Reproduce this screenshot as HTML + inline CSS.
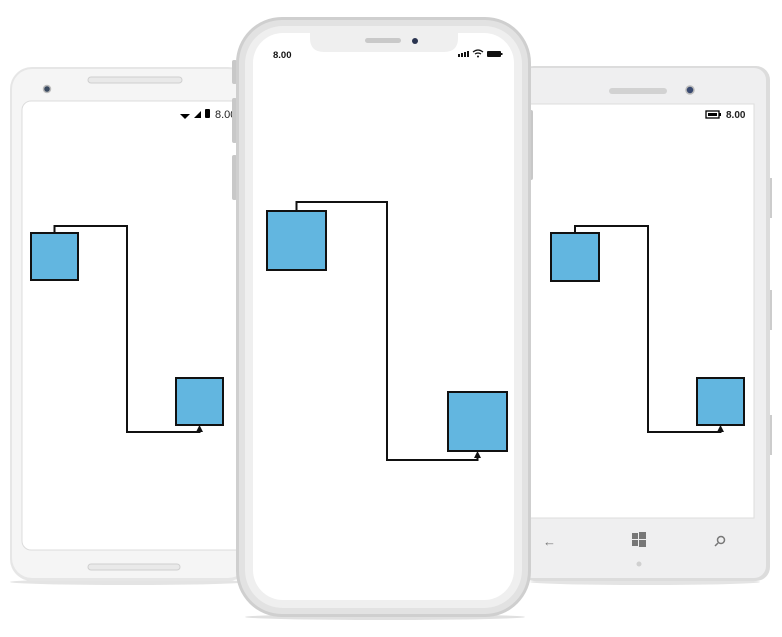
<!DOCTYPE html>
<html><head><meta charset="utf-8"><style>
html,body{margin:0;padding:0;background:#fff;}
svg{display:block;font-family:"Liberation Sans",sans-serif;}
</style></head><body>
<svg id="s" width="782" height="637" viewBox="0 0 782 637">
 <g>
  <ellipse cx="128" cy="582" rx="118" ry="3" fill="#e4e4e4"/>
  <rect x="10" y="67" width="240" height="514" rx="22" fill="#e6e6e6"/>
  <rect x="12" y="69" width="236" height="509" rx="20" fill="#f5f5f5"/>
  <rect x="88" y="77" width="94" height="6" rx="3" fill="#e9e9e9" stroke="#cfcfcf" stroke-width="1"/>
  <circle cx="47" cy="89" r="3.5" fill="#3a4a60" stroke="#bbb" stroke-width="1.5"/>
  <rect x="22" y="101" width="230" height="449" rx="9" fill="#fff" stroke="#dcdcdc" stroke-width="1"/>
  <rect x="88" y="564" width="92" height="6" rx="3" fill="#e9e9e9" stroke="#cfcfcf" stroke-width="1"/>
  <path d="M180 114 l10 0 l-5 5z" fill="#000"/>
  <path d="M194 118 l7 -7 l0 7z" fill="#000"/>
  <rect x="205" y="109" width="5" height="9" rx="1" fill="#000"/>
  <text x="215" y="118" font-size="11" fill="#222">8.00</text>
 </g>
 <g>
  <rect x="768" y="178" width="4" height="40" fill="#ccc"/>
  <rect x="768" y="290" width="4" height="40" fill="#ccc"/>
  <rect x="768" y="415" width="4" height="40" fill="#ccc"/>
  <ellipse cx="645" cy="582" rx="115" ry="3" fill="#e4e4e4"/>
  <rect x="520" y="66" width="250" height="515" rx="14" fill="#dcdcdc"/>
  <rect x="520" y="68" width="246" height="510" rx="12" fill="#efeff0"/>
  <rect x="609" y="88" width="58" height="6" rx="3" fill="#d2d2d2"/>
  <circle cx="690" cy="90" r="4" fill="#3a4a70" stroke="#bbb" stroke-width="1.5"/>
  <rect x="526" y="104" width="228" height="414" fill="#fff" stroke="#ddd" stroke-width="1"/>
  <text x="543" y="546" font-size="13" fill="#777">←</text>
  <g fill="#777"><rect x="632" y="533" width="6" height="6"/><rect x="639" y="532" width="7" height="7"/><rect x="632" y="540" width="6" height="6"/><rect x="639" y="540" width="7" height="7"/></g>
  <g><circle cx="721" cy="540" r="3.5" fill="none" stroke="#777" stroke-width="1.5"/><line x1="718" y1="543" x2="715" y2="546" stroke="#777" stroke-width="1.5"/></g>
  <circle cx="639" cy="564" r="2.5" fill="#d0d0d0"/>
  <rect x="706" y="111" width="13" height="7" fill="none" stroke="#000" stroke-width="1.3"/><rect x="708" y="113" width="9" height="3" fill="#000"/><rect x="719" y="113" width="2" height="3" fill="#000"/>
  <text x="726" y="118" font-size="10" font-weight="bold" fill="#222">8.00</text>
 </g>
 <g>
  <ellipse cx="385" cy="617" rx="140" ry="3" fill="#e0e0e0"/>
  <rect x="232" y="60" width="5" height="24" rx="2" fill="#c8c8c8"/>
  <rect x="232" y="98" width="5" height="45" rx="2" fill="#c8c8c8"/>
  <rect x="232" y="155" width="5" height="45" rx="2" fill="#c8c8c8"/>
  <rect x="528" y="110" width="5" height="70" rx="2" fill="#c8c8c8"/>
  <rect x="236" y="17" width="295" height="600" rx="46" fill="#cfcfcf"/>
  <rect x="239" y="20" width="289" height="594" rx="43" fill="#e2e2e2"/>
  <rect x="245" y="26" width="277" height="582" rx="38" fill="#efefef"/>
  <rect x="253" y="33" width="261" height="567" rx="30" fill="#fff"/>
  <path d="M310 33 L458 33 L458 38 Q458 52 444 52 L324 52 Q310 52 310 38 Z" fill="#efefef"/>
  <rect x="365" y="38" width="36" height="5" rx="2.5" fill="#c9c9c9"/>
  <circle cx="415" cy="41" r="3" fill="#2a3450"/>
  <text x="273" y="58" font-size="9.5" font-weight="bold" fill="#111">8.00</text>
  <g fill="#111"><rect x="458" y="54" width="2" height="3"/><rect x="461" y="53" width="2" height="4"/><rect x="464" y="52" width="2" height="5"/><rect x="467" y="51" width="2" height="6"/></g>
  <path d="M473 52 q5 -4 10 0 M475 54 q3 -2 6 0" fill="none" stroke="#111" stroke-width="1.2"/><circle cx="478" cy="56.5" r="1" fill="#111"/>
  <rect x="487" y="51" width="14" height="6" rx="1" fill="#111"/><rect x="501" y="53" width="1.5" height="2" fill="#111"/>
 </g>
 <g id="diagrams"></g>
</svg>
<script>
var phoneIds = ["left", "center", "right"];
var boxA = [[31, 233, 47], [267, 211, 59], [551, 233, 48]];
var boxB = [[176, 378, 47], [448, 392, 59], [697, 378, 47]];
var elbowY = [226, 202, 226];
var midX = [127, 387, 648];
var endY = [432, 460, 432];

var NS = "http://www.w3.org/2000/svg";
var g = document.getElementById("diagrams");
function mk(t, a) { var e = document.createElementNS(NS, t); for (var k in a) e.setAttribute(k, a[k]); g.appendChild(e); return e; }
for (var i = 0; i < phoneIds.length; i++) {
  var a = boxA[i], b = boxB[i];
  var r1 = mk("rect", {x: a[0], y: a[1], width: a[2], height: a[2], fill: "#62b6e0", stroke: "#111", "stroke-width": 2});
  
  
  var r2 = mk("rect", {x: b[0], y: b[1], width: b[2], height: b[2], fill: "#62b6e0", stroke: "#111", "stroke-width": 2});
  
  
  var sx = a[0] + a[2] / 2, tx = b[0] + b[2] / 2, ty = b[1] + b[2];
  var p = mk("path", {d: "M" + sx + " " + a[1] + " V" + elbowY[i] + " H" + midX[i] + " V" + endY[i] + " H" + tx + " V" + (ty + 6), fill: "none", stroke: "#111", "stroke-width": 2});
  
  
  var ar = mk("path", {d: "M" + (tx - 3.5) + " " + (ty + 7) + " L" + tx + " " + ty + " L" + (tx + 3.5) + " " + (ty + 7) + " Z", fill: "#111"});
  
  
}
</script>
</body></html>
